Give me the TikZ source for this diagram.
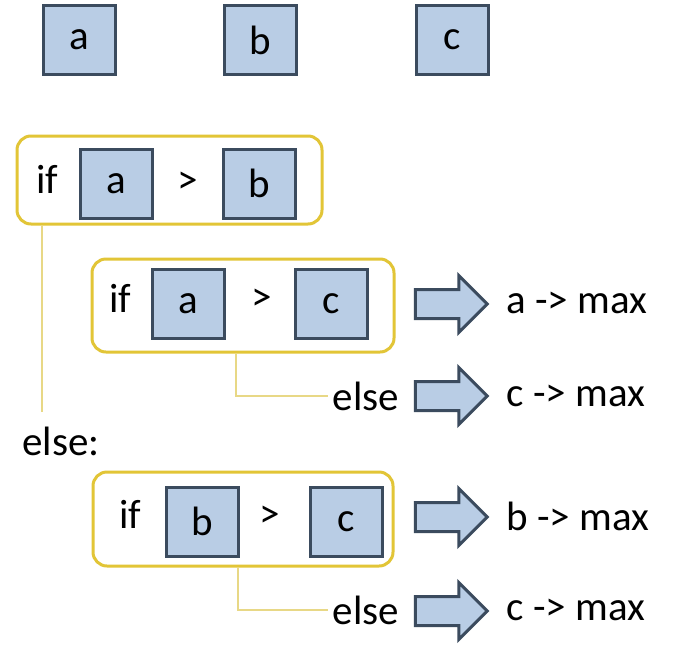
\documentclass[tikz,border=0pt]{standalone}
\usepackage{fontspec}
\setmainfont{Carlito}
\usetikzlibrary{positioning,calc,shapes.arrows}
\definecolor{cA}{HTML}{B9CDE5}
\definecolor{cB}{HTML}{3B4B5E}
\definecolor{cY}{HTML}{E2C537}
\definecolor{cL}{HTML}{E8D886}
\tikzset{
  var/.style={rectangle,draw=cB,fill=cA,line width=1.5pt,
              minimum width=36pt,minimum height=34.5pt,inner sep=0pt},
  cond/.style={rectangle,rounded corners=7pt,draw=cY,line width=1.5pt,inner sep=0pt},
  blockarr/.style={single arrow,draw=cB,fill=cA,line width=1.5pt,
              minimum height=36pt,inner sep=6.5pt,
              single arrow head extend=7pt,single arrow head indent=0pt},
  guide/.style={draw=cL,line width=0.6pt},
  lbl/.style={inner sep=2pt},
}
\begin{document}
\begin{tikzpicture}[x=0.5pt,y=-0.5pt,font=\fontsize{20.5}{24}\selectfont]
  \useasboundingbox[fill=white] (0,0) rectangle (694,648);
  % variables
  \node[var] (va) at (79.5,40) {a};
  \node[var] (vb) at (260,40) {b};
  \node[var] (vc) at (452.5,40) {c};
  % if a > b
  \node[cond,minimum width=152.5pt,minimum height=44pt] (c1) at (169.5,180) {};
  \node[lbl] (if1) at (47,179) {if};
  \node[var] (a1) at (116.5,183.5) {a};
  \node[lbl] (gt1) at (188,183) {>};
  \node[var] (b1) at (259.5,183.5) {b};
  % if a > c
  \node[cond,minimum width=151pt,minimum height=46.5pt] (c2) at (243,305.5) {};
  \node[lbl] (if2) at (120,298) {if};
  \node[var] (a2) at (188.5,304) {a};
  \node[lbl] (gt2) at (262,300) {>};
  \node[var] (c2v) at (331.5,304) {c};
  \node[blockarr] (ar1) at (444,304) {};
  \node[lbl,anchor=west] (r1) at (502,303) {a -> max};
  \node[lbl] (el1) at (366,396) {else};
  \node[blockarr] (ar2) at (444,396) {};
  \node[lbl,anchor=west] (r2) at (502,396) {c -> max};
  \draw[guide] (c2.south -| 236,0) |- (el1.west);
  % else:
  \node[lbl] (el0) at (61,441) {else:};
  \coordinate (g0) at (42,412);
  \draw[guide] (c1.south -| 42,0) -- (g0);
  % if b > c
  \node[cond,minimum width=150pt,minimum height=47pt] (c3) at (243,519) {};
  \node[lbl] (if3) at (130,514) {if};
  \node[var] (b3) at (202.5,521.5) {b};
  \node[lbl] (gt3) at (270,517) {>};
  \node[var] (c3v) at (346.5,521.5) {c};
  \node[blockarr] (ar3) at (444,517) {};
  \node[lbl,anchor=west] (r3) at (502,516) {b -> max};
  \node[lbl] (el2) at (366,610) {else};
  \node[blockarr] (ar4) at (444,611) {};
  \node[lbl,anchor=west] (r4) at (502,610) {c -> max};
  \draw[guide] (c3.south -| 238,0) |- (el2.west);
\end{tikzpicture}
\end{document}
